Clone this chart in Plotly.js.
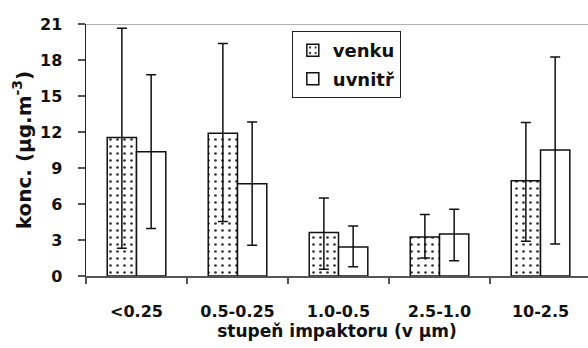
<!DOCTYPE html>
<html><head><meta charset="utf-8">
<script src="https://cdn.plot.ly/plotly-3.0.1.min.js"></script>
<style>html,body{margin:0;padding:0;background:#fff}#c{width:588px;height:348px}</style>
</head><body><div id="c"></div>
<script>
const categories = ["<0.25", "0.5-0.25", "1.0-0.5", "2.5-1.0", "10-2.5"];
const venku = [11.55, 11.9, 3.62, 3.26, 7.93];
const venkuErrTop = [20.65, 19.37, 6.51, 5.12, 12.8];
const venkuErrBottom = [2.31, 4.54, 0.56, 1.5, 2.9];
const uvnitr = [10.35, 7.68, 2.42, 3.51, 10.49];
const uvnitrErrTop = [16.78, 12.83, 4.17, 5.57, 18.26];
const uvnitrErrBottom = [3.95, 2.56, 0.78, 1.28, 2.67];
const yTicks = [0, 3, 6, 9, 12, 15, 18, 21];

const F = "DejaVu Sans, sans-serif";
const plus = (t, v) => t.map((x, i) => x - v[i]);
const minus = (b, v) => b.map((x, i) => v[i] - x);

const errStyle = {color: "#111", thickness: 1.5, width: 5};
const traces = [
  {type: "bar", name: "venku", legendgroup: "a", x: categories, y: venku,
   marker: {color: "white", line: {color: "#111", width: 1.5},
            pattern: {shape: ".", fgcolor: "#333", bgcolor: "white", size: 7, solidity: 0.12}},
   error_y: Object.assign({type: "data", symmetric: false, array: plus(venkuErrTop, venku), arrayminus: minus(venkuErrBottom, venku)}, errStyle)},
  {type: "bar", name: "uvnitř", legendgroup: "b", x: categories, y: uvnitr,
   marker: {color: "white", line: {color: "#111", width: 1.5}},
   error_y: Object.assign({type: "data", symmetric: false, array: plus(uvnitrErrTop, uvnitr), arrayminus: minus(uvnitrErrBottom, uvnitr)}, errStyle)}
];

const layout = {
  width: 588, height: 348,
  margin: {l: 86, r: 0, t: 24, b: 72},
  paper_bgcolor: "white", plot_bgcolor: "white",
  font: {family: F, color: "#111", size: 16, weight: 700},
  barmode: "group", bargap: 0.42, bargroupgap: 0,
  showlegend: true,
  legend: {x: 0.41, y: 0.972, xanchor: "left", yanchor: "top",
           bordercolor: "#222", borderwidth: 1, bgcolor: "white",
           font: {family: F, size: 18, weight: 700, color: "#111"},
           itemwidth: 30, tracegroupgap: 2, traceorder: "grouped"},
  xaxis: {type: "category", range: [-0.5, 4.47], tickson: "boundaries",
          ticks: "outside", ticklen: 6, tickcolor: "#555", tickwidth: 1.5,
          showline: true, linecolor: "#555", linewidth: 1.5, showgrid: false,
          ticklabelstandoff: 20,
          tickfont: {family: F, size: 16, weight: 700},
          title: {text: "stupeň impaktoru (v μm)", font: {family: F, size: 17, weight: 700}, standoff: 2}},
  yaxis: {range: [0, 21], tickvals: yTicks, ticktext: yTicks.map(String),
          ticks: "outside", ticklen: 7, tickcolor: "#555", tickwidth: 1.5,
          showline: true, linecolor: "#222", linewidth: 1.5, showgrid: false, zeroline: false,
          ticklabelstandoff: 12,
          tickfont: {family: F, size: 16, weight: 700},
          title: {text: "konc. (μg.m<sup>-3</sup>)", font: {family: F, size: 20, weight: 700}, standoff: 3}},
  shapes: [{type: "line", xref: "paper", yref: "y", x0: 0, x1: 1, y0: 21, y1: 21,
            line: {color: "#999", width: 1.5}}]
};
Plotly.newPlot("c", traces, layout, {displayModeBar: false, staticPlot: true});
</script></body></html>
